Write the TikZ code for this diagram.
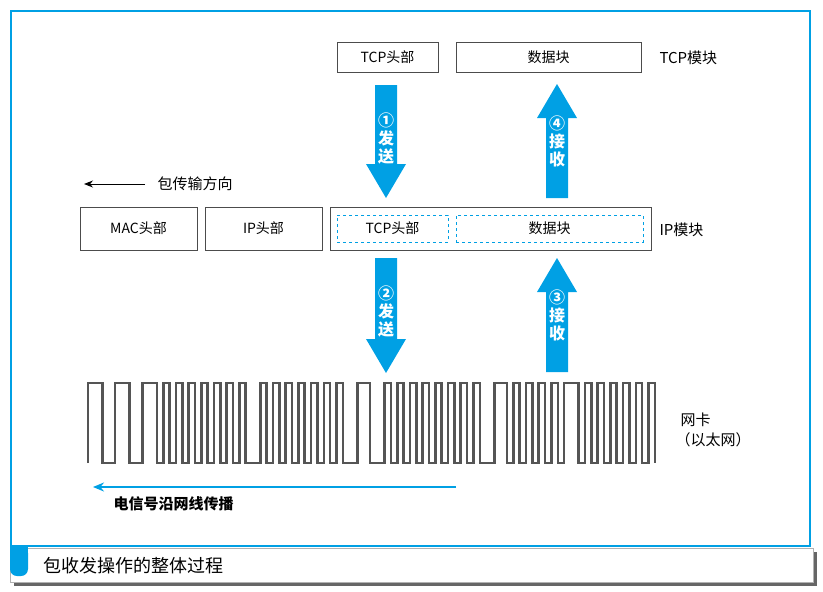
\documentclass[tikz,border=0pt]{standalone}
\usepackage{fontspec}
\setmainfont{Noto Sans CJK SC}
\usetikzlibrary{arrows.meta}
\definecolor{cb}{RGB}{0,160,228}
\definecolor{wv}{RGB}{85,85,85}
\begin{document}
\begin{tikzpicture}[x=1pt,y=-1pt,
  box/.style={draw=black!70,line width=0.8pt,minimum height=30pt,inner sep=0pt,font=\fontsize{14}{16}\selectfont},
  dbox/.style={draw=cb,dashed,line width=0.8pt,inner sep=0pt,font=\fontsize{14}{16}\selectfont},
  lbl/.style={font=\fontsize{15}{17}\selectfont,anchor=west},
  barrow/.style={fill=cb},
  atxt/.style={text=white,font=\bfseries\fontsize{16}{18}\selectfont,align=center,inner sep=0pt}]
\useasboundingbox (0,0) rectangle (823,592);
\fill[black!60] (14,552) rectangle (817,586);
\fill[white] (10,548) rectangle (813,582);
\draw[black!30] (10,548) rectangle (813,582);
\draw[cb,line width=2pt] (11,11) rectangle (810,546);
\fill[cb] (10,545) rectangle (28,560);
\fill[cb,rounded corners=7pt] (10,546) rectangle (28,576);
\node[lbl,font=\fontsize{18}{20}\selectfont] (cap) at (40,566) {包收发操作的整体过程};
% top row
\node[box,minimum width=101pt] (tcph) at (387.5,57) {TCP头部};
\node[box,minimum width=185pt] (data) at (548.5,57) {数据块};
\node[lbl] (tcpm) at (656,58) {TCP模块};
% arrows
\newcommand{\downarr}[4]{\fill[barrow] (#1-11,#2) -- (#1+11,#2) -- (#1+11,#3-34) -- (#1+20,#3-34) -- (#1,#3) -- (#1-20,#3-34) -- (#1-11,#3-34) -- cycle;
  \node[atxt] at (#1,#2+54) {#4};}
\newcommand{\uparr}[4]{\fill[barrow] (#1-11,#3) -- (#1+11,#3) -- (#1+11,#2+34) -- (#1+20,#2+34) -- (#1,#2) -- (#1-20,#2+34) -- (#1-11,#2+34) -- cycle;
  \node[atxt] at (#1,#3-57) {#4};}
\downarr{386}{85}{198}{①\\发\\送}
\uparr{557}{84}{198}{④\\接\\收}
\downarr{386}{258}{373}{②\\发\\送}
\uparr{557}{258}{372}{③\\接\\收}
% direction
\coordinate (d1) at (145,184); \coordinate (d2) at (84,184);
\draw[-{Stealth[length=9pt,width=7pt]},line width=1pt] (d1) -- (d2);
\node[lbl] (dir) at (154,184) {包传输方向};
% second row
\node[box,minimum width=117pt,minimum height=43pt] (mac) at (138.5,228.5) {MAC头部};
\node[box,minimum width=117pt,minimum height=43pt] (iph) at (263.5,228.5) {IP头部};
\node[box,minimum width=321pt,minimum height=43pt] (ipb) at (490.5,228.5) {};
\node[dbox,minimum width=111pt,minimum height=27pt] (tcp2) at (392.5,228.5) {TCP头部};
\node[dbox,minimum width=187pt,minimum height=27pt] (data2) at (549.5,228.5) {数据块};
\node[lbl] (ipm) at (656,230) {IP模块};
% wave
\begin{scope}[xscale=0.907]
\draw[wv,line width=2.6pt,line join=miter] (97,463)
 \foreach \w [count=\i] in {16,14,16,14,16,7,7,7,7,7,7,7,7,7,7,7,7,7,7,16,7,7,7,7,7,7,7,7,7,7,7,7,7,16,14,16,7,7,7,7,7,7,7,7,7,7,7,7,7,7,7,16,14,7,7,7,7,7,7,7,7,7,16,7,7,7,7,7,7,7,7,7,7,7,7}{
   \ifodd\i -- ++(0,-80) -- ++(\w,0) \else -- ++(0,80) -- ++(\w,0) \fi
 } -- ++(0,80);
\end{scope}
\node[lbl] (nic) at (677,420) {网卡};
\node[lbl] (eth) at (672,440) {（以太网）};
% bottom arrow
\coordinate (e1) at (456,487); \coordinate (e2) at (93,487);
\draw[cb,line width=2pt,-{Stealth[length=11pt,width=9pt]}] (e1) -- (e2);
\node[lbl,font=\bfseries\fontsize{15}{17}\selectfont] (sig) at (110,504) {电信号沿网线传播};
\end{tikzpicture}
\end{document}
